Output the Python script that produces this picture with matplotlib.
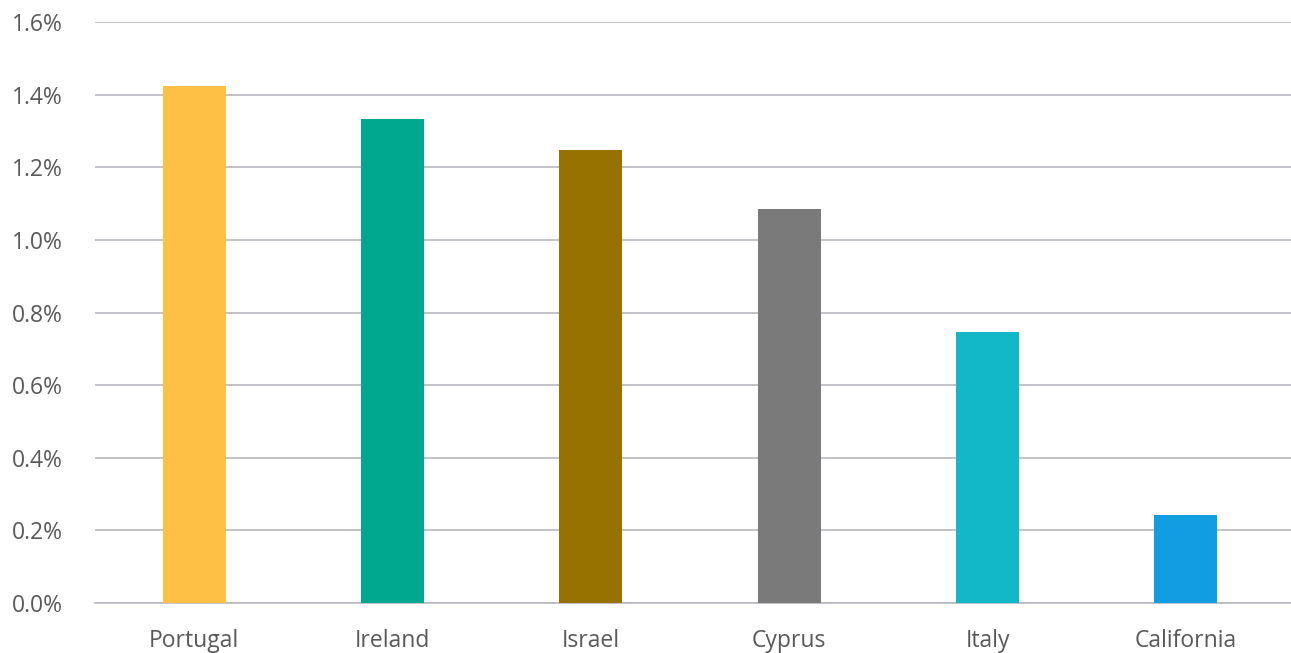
import matplotlib
matplotlib.use("Agg")
import matplotlib.pyplot as plt
from matplotlib.ticker import FuncFormatter

# data
regions = ["Portugal", "Ireland", "Israel", "Cyprus", "Italy", "California"]
values = [1.425, 1.333, 1.248, 1.085, 0.747, 0.242]  # percent
bar_colors = ["#FFC145", "#00A88F", "#977200", "#7A7A7A", "#12B8C8", "#129DE2"]

plt.rcParams["font.family"] = ["Open Sans", "DejaVu Sans"]
text_color = "#595959"
grid_color = "#B8B8C0"

fig = plt.figure(figsize=(12.91, 6.53), dpi=100)
ax = fig.add_axes([95 / 1291, 50 / 653, 1196 / 1291, 581 / 653])

x = range(len(regions))
ax.bar(x, values, width=0.317, color=bar_colors, zorder=3)

ax.set_xlim(-0.5, len(regions) - 0.47)
ax.set_ylim(0, 1.6)
ax.set_yticks([0.0, 0.2, 0.4, 0.6, 0.8, 1.0, 1.2, 1.4, 1.6])
ax.yaxis.set_major_formatter(FuncFormatter(lambda v, p: f"{v:.1f}%"))
ax.set_xticks(list(x))
ax.set_xticklabels(regions)

ax.grid(axis="y", color=grid_color, linewidth=1.2, zorder=0)
for s in ["top", "right", "left"]:
    ax.spines[s].set_visible(False)
ax.spines["bottom"].set_color(grid_color)
ax.spines["bottom"].set_linewidth(1.2)

ax.tick_params(axis="both", length=0, colors=text_color, labelsize=16.5)
ax.tick_params(axis="y", pad=23)
ax.tick_params(axis="x", pad=19)

fig.savefig("out.png", dpi=100, facecolor="white")
